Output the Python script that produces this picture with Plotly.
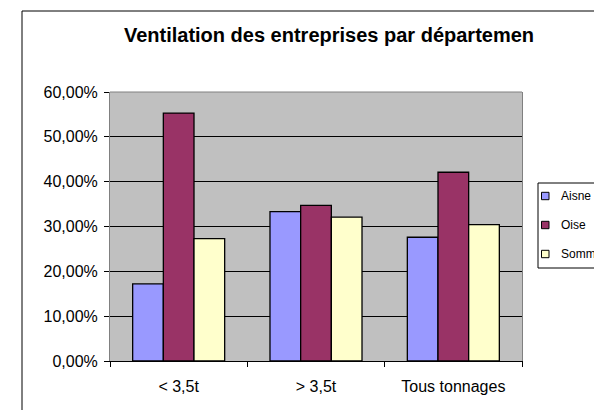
import plotly.graph_objects as go

categories = ["< 3,5t", "> 3,5t", "Tous tonnages"]
aisne = [0.172, 0.333, 0.276]
oise = [0.553, 0.347, 0.421]
somme = [0.273, 0.321, 0.304]
y_ticks = [0, 0.1, 0.2, 0.3, 0.4, 0.5, 0.6]

series_names = ["Aisne", "Oise", "Somme"]
series_values = [aisne, oise, somme]
series_colors = ["#9999FF", "#993366", "#FFFFCC"]

FONT = "Liberation Sans, Arial, sans-serif"


# page pixel -> paper coords (page has an 8px body margin; plot area is 110..522 x 92..361)
def px(x):
    return (x - 110) / 412


def py(y):
    return (361 - y) / 269


fig = go.Figure()
for name, vals, color in zip(series_names, series_values, series_colors):
    fig.add_trace(go.Bar(
        x=categories, y=vals, name=name,
        marker=dict(color=color, line=dict(color="black", width=1.3)),
        showlegend=False,
    ))

fig.update_layout(
    width=594, height=402,
    margin=dict(l=102, r=80, t=84, b=49, autoexpand=False),
    paper_bgcolor="white",
    plot_bgcolor="#C0C0C0",
    separators=", ",
    barmode="group", bargap=0.33, bargroupgap=0,
    title=dict(
        text="<b>Ventilation des entreprises par départemen</b>",
        xref="container", x=(329 - 8) / 594, xanchor="center",
        yref="container", y=1 - (35 - 8) / 402, yanchor="middle",
        font=dict(family=FONT, size=20, color="black"),
    ),
    font=dict(family=FONT, size=16, color="black"),
)

fig.update_xaxes(
    type="category", showline=True, linecolor="black", linewidth=1,
    ticks="outside", tickson="boundaries", ticklen=5, tickcolor="black",
    ticklabelstandoff=11, showgrid=False,
)
fig.update_yaxes(
    range=[0, 0.6], tickvals=y_ticks, tickformat=".2%",
    showline=True, linecolor="#808080", linewidth=1, mirror=True,
    ticks="outside", ticklen=5, tickcolor="black", ticklabelstandoff=3,
    showgrid=True, gridcolor="black", gridwidth=1, zeroline=False,
)

# gray top edge of the plot area
fig.add_shape(type="line", xref="paper", yref="paper", x0=0, x1=1, y0=1, y1=1,
              line=dict(color="#808080", width=1))
# outer chart frame (runs off the right and bottom edges)
fig.add_shape(type="rect", xref="paper", yref="paper",
              x0=px(22), x1=px(640), y0=py(440), y1=py(11),
              line=dict(color="black", width=1))

# legend box, Excel style
fig.add_shape(type="rect", xref="paper", yref="paper",
              x0=px(538), x1=px(640), y0=py(268), y1=py(183),
              line=dict(color="black", width=1), fillcolor="white")
legend_y = [196, 225, 254]
for name, color, ly in zip(series_names, series_colors, legend_y):
    fig.add_shape(type="rect", xref="paper", yref="paper",
                  x0=px(541.5), x1=px(549), y0=py(ly + 3.7), y1=py(ly - 3.7),
                  line=dict(color="black", width=1), fillcolor=color)
    fig.add_annotation(text=name, xref="paper", yref="paper",
                       x=px(559), y=py(ly), xanchor="left", yanchor="middle",
                       showarrow=False, font=dict(family=FONT, size=12, color="black"))

fig.write_html("out.html")
